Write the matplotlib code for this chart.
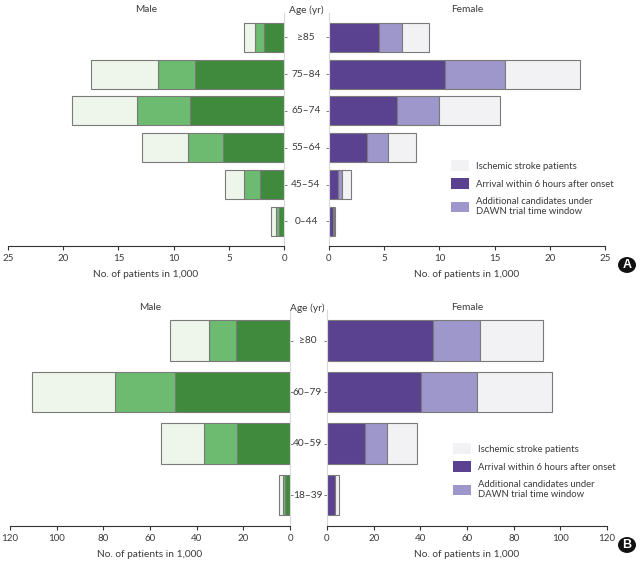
import matplotlib
matplotlib.use("Agg")
import matplotlib.pyplot as plt
from matplotlib.patches import Patch, Circle
from matplotlib.transforms import blended_transform_factory

plt.rcParams['font.family'] = ['Lato', 'DejaVu Sans']

# ---------------- data ----------------
ages_a = ['≥85', '75–84', '65–74', '55–64', '45–54', '0–44']
male_a_total = [3.6, 17.5, 19.2, 12.9, 5.3, 1.15]
male_a_6h = [1.8, 8.1, 8.5, 5.5, 2.2, 0.48]
male_a_dawn = [0.8, 3.35, 4.85, 3.2, 1.45, 0.27]
female_a_total = [9.1, 22.7, 15.5, 7.9, 1.95, 0.57]
female_a_6h = [4.55, 10.55, 6.2, 3.4, 0.8, 0.33]
female_a_dawn = [2.1, 5.35, 3.8, 1.9, 0.4, 0.09]

ages_b = ['≥80', '60–79', '40–59', '18–39']
male_b_total = [51.6, 110.4, 55.5, 4.9]
male_b_6h = [23.3, 49.1, 22.9, 2.1]
male_b_dawn = [11.6, 26.1, 14.1, 0.8]
female_b_total = [92.7, 96.3, 38.4, 5.0]
female_b_6h = [45.3, 40.3, 16.1, 3.3]
female_b_dawn = [20.3, 24.0, 9.5, 0.2]

ticks_a = [0, 5, 10, 15, 20, 25]
ticks_b = [0, 20, 40, 60, 80, 100, 120]

legend_labels = ['Ischemic stroke patients', 'Arrival within 6 hours after onset',
                 'Additional candidates under\nDAWN trial time window']

# ---------------- style ----------------
G_DARK, G_MED, G_LIGHT = '#3f8a3c', '#6dbb70', '#eef5ea'
P_DARK, P_MED, P_LIGHT = '#5a4291', '#9d97cb', '#f2f2f4'
EDGE = '#7a7a7a'
TXT = '#3a3a3a'
FS = 7.0

W, H = 641, 566
fig = plt.figure(figsize=(W / 100, H / 100), dpi=100)


def px_axes(x0, x1, ytop, ybot):
    return fig.add_axes([x0 / W, 1 - ybot / H, (x1 - x0) / W, (ybot - ytop) / H])


def draw_side(ax, total, six, dawn, cols, xmax, ticks, male):
    n = len(total)
    ys = list(range(n - 1, -1, -1))
    left2 = [a for a in six]
    left3 = [a + b for a, b in zip(six, dawn)]
    rest = [t - l for t, l in zip(total, left3)]
    kw = dict(height=0.79, edgecolor=EDGE, linewidth=0.8)
    ax.barh(ys, six, color=cols[0], **kw)
    ax.barh(ys, dawn, left=left2, color=cols[1], **kw)
    ax.barh(ys, rest, left=left3, color=cols[2], **kw)
    if male:
        ax.set_xlim(xmax, 0)
    else:
        ax.set_xlim(0, xmax)
    ax.set_xticks(ticks)
    ax.set_yticks(ys)
    ax.set_yticklabels([])
    for s in ['top', 'left', 'right']:
        ax.spines[s].set_visible(False)
    side = 'right' if male else 'left'
    ax.spines[side].set_visible(True)
    ax.spines[side].set_color('#d8d8d8')
    ax.spines[side].set_linewidth(0.8)
    ax.spines['bottom'].set_color('#333333')
    ax.spines['bottom'].set_linewidth(0.8)
    ax.tick_params(axis='x', direction='out', length=3, width=0.8, colors='#333333',
                   labelsize=FS, labelcolor=TXT, pad=2.5)
    ax.tick_params(axis='y', direction='out', length=2, width=0.6, colors='#666666',
                   left=not male, right=male, labelleft=False, labelright=False)
    ax.set_xlabel('No. of patients in 1,000', fontsize=FS + 0.3, color=TXT, labelpad=5)
    ax.set_facecolor('none')
    return ys


def panel(ages, mt, m6, md, ft, f6, fd, xmax, ticks, mx, fx, ytop, ybot, pad, age_x,
          title_y, leg_xy, badge_xy, badge):
    n = len(ages)
    axm = px_axes(mx[0], mx[1], ytop, ybot)
    axf = px_axes(fx[0], fx[1], ytop, ybot)
    for ax in (axm, axf):
        ax.set_ylim(-pad, n - 1 + pad)
    ys = draw_side(axm, mt, m6, md, (G_DARK, G_MED, G_LIGHT), xmax, ticks, True)
    draw_side(axf, ft, f6, fd, (P_DARK, P_MED, P_LIGHT), xmax, ticks, False)
    tr = blended_transform_factory(fig.transFigure, axm.transData)
    for y, lab in zip(ys, ages):
        axm.text(age_x / W, y, lab, transform=tr, ha='center', va='center',
                 fontsize=FS + 0.3, color=TXT)
    fig.text((mx[0] + mx[1]) / 2 / W, 1 - title_y / H, 'Male', ha='center', va='center',
             fontsize=FS + 0.3, color=TXT)
    fig.text((fx[0] + fx[1]) / 2 / W, 1 - title_y / H, 'Female', ha='center', va='center',
             fontsize=FS + 0.3, color=TXT)
    fig.text(age_x / W, 1 - title_y / H, 'Age (yr)', ha='center', va='center',
             fontsize=FS + 0.3, color=TXT)
    handles = [Patch(facecolor=P_LIGHT, edgecolor='none'),
               Patch(facecolor=P_DARK, edgecolor='none'),
               Patch(facecolor=P_MED, edgecolor='none')]
    fig.legend(handles, legend_labels, loc='upper left',
               bbox_to_anchor=(leg_xy[0] / W, 1 - leg_xy[1] / H), frameon=False,
               fontsize=FS - 0.2, handlelength=1.9, handleheight=1.4, handletextpad=0.75,
               labelspacing=0.8, borderpad=0, borderaxespad=0, labelcolor=TXT)
    bx, by = badge_xy
    circ = Circle((bx / W, 1 - by / H), 9 / W, transform=fig.transFigure,
                  facecolor='#111111', edgecolor='none')
    fig.patches.append(circ)
    fig.text(bx / W, 1 - by / H, badge, ha='center', va='center', fontsize=9,
             color='white', fontweight='bold', family=['Liberation Sans', 'DejaVu Sans'])


panel(ages_a, male_a_total, male_a_6h, male_a_dawn, female_a_total, female_a_6h,
      female_a_dawn, 25, ticks_a, (8, 284), (329, 605), 12.7, 246, 0.67, 306,
      10, (451, 160), (627, 265), 'A')
panel(ages_b, male_b_total, male_b_6h, male_b_dawn, female_b_total, female_b_6h,
      female_b_dawn, 120, ticks_b, (10, 290), (327, 607), 309.6, 526, 0.6, 307.5,
      308, (453, 443), (627, 545), 'B')

fig.savefig('out.png', dpi=100)
